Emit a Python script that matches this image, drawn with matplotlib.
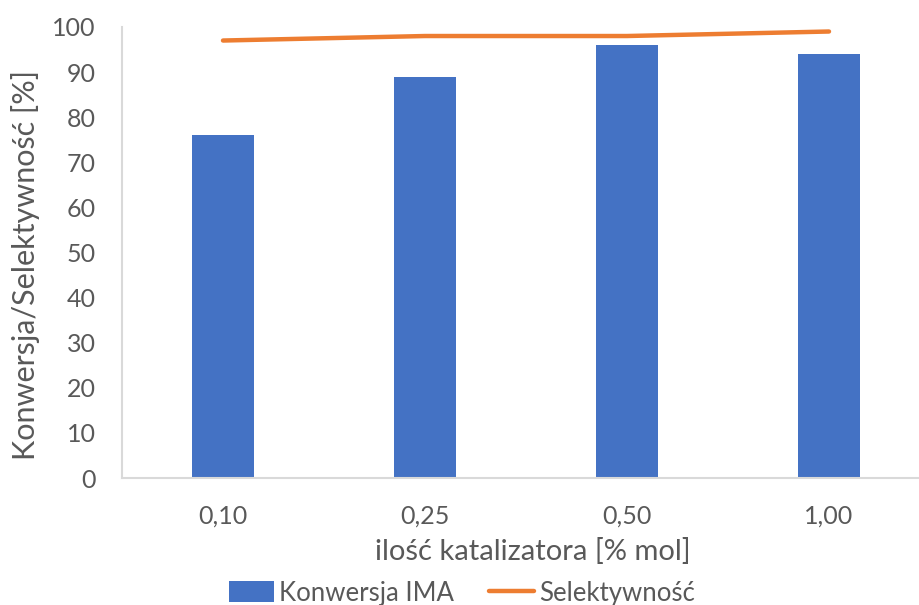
import matplotlib.pyplot as plt
import numpy as np

plt.rcParams['font.family'] = ['Lato', 'DejaVu Sans']

# catalyst loading and measured results
categories = ['0,10', '0,25', '0,50', '1,00']
konwersja = [76, 89, 96, 94]
selektywnosc = [97, 98, 98, 99]

grey = '#595959'
axis_grey = '#d9d9d9'

fig = plt.figure(figsize=(9.19, 6.05), dpi=100)
ax = fig.add_axes([122 / 919, 1 - 478 / 605, 808 / 919, 451 / 605])

x = np.arange(len(categories))
bars = ax.bar(x, konwersja, width=0.31, color='#4472c4', label='Konwersja IMA', zorder=2)
line, = ax.plot(x, selektywnosc, color='#ed7d31', lw=3.2, solid_capstyle='round',
                label='Selektywność', zorder=3)

ax.set_xlim(-0.5, len(categories) - 0.5)
ax.set_ylim(0, 100)
ax.set_yticks(range(0, 101, 10))
ax.set_xticks(x)
ax.set_xticklabels(categories)

for s in ['top', 'right']:
    ax.spines[s].set_visible(False)
for s in ['left', 'bottom']:
    ax.spines[s].set_color(axis_grey)
    ax.spines[s].set_linewidth(1.5)

ax.tick_params(axis='both', length=0, labelsize=18, colors=grey)
ax.tick_params(axis='x', pad=19)
ax.tick_params(axis='y', pad=19)

ax.set_xlabel('ilość katalizatora [% mol]', fontsize=21, color=grey)
ax.set_ylabel('Konwersja/Selektywność [%]', fontsize=22, color=grey)
ax.xaxis.set_label_coords((533 - 122) / 808, -(538 - 478) / 451)
ax.yaxis.set_label_coords(-(122 - 40) / 808, (478 - 265) / 451)

fig.legend([bars, line], ['Konwersja IMA', 'Selektywność'], loc='center',
           bbox_to_anchor=(462 / 919, 1 - 593 / 605), ncol=2,
           frameon=False, fontsize=18.5, labelcolor=grey, handlelength=1.75,
           handleheight=0.85, handletextpad=0.2, columnspacing=1.35)

fig.savefig('out.png', dpi=100)
